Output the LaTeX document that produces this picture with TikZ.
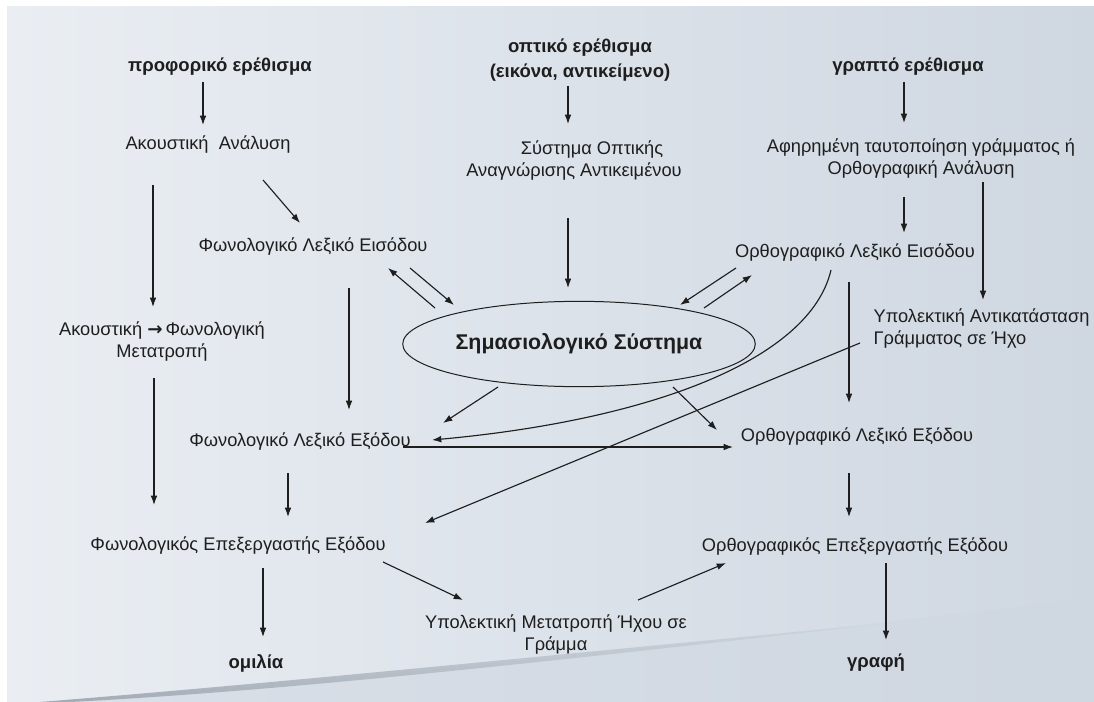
\documentclass[tikz,border=0pt]{standalone}
\usepackage{fontspec}
\setmainfont{Liberation Sans}
\newfontfamily\arrowfont{DejaVu Sans}
\usetikzlibrary{arrows.meta,calc,shapes.geometric}

\definecolor{panelleft}{RGB}{234,238,243}
\definecolor{panelright}{RGB}{207,215,225}
\definecolor{swooshdark}{RGB}{150,158,168}
\definecolor{ink}{RGB}{30,30,30}

\begin{document}
\begin{tikzpicture}[x=0.75pt,y=-0.75pt,
  every node/.style={font=\fontsize{13.7}{16.5}\selectfont,text=ink,inner sep=1pt},
  stimulus/.style={font=\fontsize{13.9}{19}\selectfont\bfseries,align=center},
  unit/.style={align=center},
  flow/.style={draw=ink,line width=0.85pt,-{Latex[length=7pt,width=5pt]}}]

  \useasboundingbox (0,0) rectangle (1094,702);
  \fill[white] (0,0) rectangle (1094,702);
  \shade[left color=panelleft,right color=panelright] (7,7) rectangle (1094,702);
  \fill[panelright,opacity=0.6] (40,702) .. controls (300,684) and (650,650) .. (1094,598) -- (1094,702) -- cycle;
  \shade[left color=swooshdark,right color=panelright,opacity=0.8]
    (40,702) .. controls (300,681) and (550,655) .. (900,622)
    .. controls (560,660) and (300,690) .. (70,702) -- cycle;

  \node[stimulus] (po) at (220,67) {προφορικό ερέθισμα};
  \node[stimulus] (oo) at (580,60) {οπτικό ερέθισμα\\(εικόνα, αντικείμενο)};
  \node[stimulus] (go) at (908,67) {γραπτό ερέθισμα};

  \node[unit] (aa) at (208,145) {Ακουστική\ \ Ανάλυση};
  \node[unit] (so) at (574,161) {\hspace*{27pt}Σύστημα Οπτικής\\Αναγνώρισης Αντικειμένου};
  \node[unit] (af) at (921,159) {Αφηρημένη ταυτοποίηση γράμματος ή\\Ορθογραφική Ανάλυση};

  \node[unit] (fle) at (313,247) {Φωνολογικό Λεξικό Εισόδου};
  \node[unit] (ole) at (855,253) {Ορθογραφικό Λεξικό Εισόδου};

  \node[unit] (afm) at (162,342) {Ακουστική {\arrowfont\bfseries →}\,Φωνολογική\\Μετατροπή};
  \node[ellipse,draw=ink,line width=0.75pt,minimum width=225pt,minimum height=64pt,
        font=\fontsize{16}{19}\selectfont\bfseries] (sem) at (579,344) {Σημασιολογικό Σύστημα};
  \node[align=left,anchor=west] (ya) at (872,329) {Υπολεκτική Αντικατάσταση\\Γράμματος σε Ήχο};

  \node[unit] (flx) at (300,442) {Φωνολογικό Λεξικό Εξόδου};
  \node[unit] (olx) at (857,437) {Ορθογραφικό Λεξικό Εξόδου};

  \node[unit] (fep) at (238,546) {Φωνολογικός Επεξεργαστής Εξόδου};
  \node[unit] (oep) at (855,547) {Ορθογραφικός Επεξεργαστής Εξόδου};
  \node[unit] (ym) at (556,635) {Υπολεκτική Μετατροπή Ήχου σε\\Γράμμα};

  \node[stimulus] (om) at (256,663) {ομιλία};
  \node[stimulus] (gr) at (876,663) {γραφή};

  % stimuli
  \draw[flow] ($(po)+(-17,15)$) -- ($(aa)+(-5,-20)$);
  \draw[flow] ($(oo)+(-12,26)$) -- ($(so)+(-6,-37)$);
  \draw[flow] ($(go)+(-4,15)$) -- ($(af)+(-17,-36)$);

  \draw[flow] ($(aa)+(55,35)$) -- ($(fle)+(-13,-24)$);
  \draw[flow] ($(aa)+(-55,40)$) -- ($(afm)+(-9,-35)$);
  \draw[flow] ($(so)+(-6,57)$) -- ($(sem)+(-11,-56)$);
  \draw[flow] ($(af)+(-17,38)$) -- ($(ole)+(49,-20)$);
  \draw[flow] ($(af)+(62,23)$) -- ($(ya.west)+(111,-29)$);

  % lexicon <-> semantic system
  \draw[flow] ($(sem)+(-144,-36)$) -- ($(fle)+(75,21)$);
  \draw[flow] ($(fle)+(97,21)$) -- ($(sem)+(-125,-39)$);
  \draw[flow] ($(ole)+(-119,15)$) -- ($(sem)+(101,-39)$);
  \draw[flow] ($(sem)+(125,-36)$) -- ($(ole)+(-103,22)$);

  \draw[flow] ($(fle)+(36,41)$) -- ($(flx)+(49,-32)$);
  \draw[flow] ($(ole)+(-6,29)$) -- ($(olx)+(-8,-34)$);
  \draw[flow] ($(sem)+(-81,43)$) -- ($(flx)+(143,-19)$);
  \draw[flow] ($(sem)+(94,43)$) -- ($(olx)+(-140,-7)$);
  \draw[flow] ($(flx)+(103,5)$) -- ($(olx)+(-124,10)$);
  \draw[flow] ($(ole)+(-24,17)$) .. controls +(-21,90) and +(218,-20) .. ($(flx)+(132,-2)$);
  \draw[flow] ($(ya.west)+(-12,14)$) -- ($(fep)+(187,-23)$);

  % output side
  \draw[flow] ($(flx)+(-12,31)$) -- ($(fep)+(50,-29)$);
  \draw[flow] ($(afm)+(-8,36)$) -- ($(fep)+(-84,-41)$);
  \draw[flow] ($(olx)+(-8,36)$) -- ($(oep)+(-6,-30)$);
  \draw[flow] ($(fep)+(145,16)$) -- ($(ym)+(-93,-35)$);
  \draw[flow] ($(ym)+(82,-35)$) -- ($(oep)+(-129,16)$);
  \draw[flow] ($(fep)+(25,22)$) -- ($(om)+(7,-26)$);
  \draw[flow] ($(oep)+(31,16)$) -- ($(gr)+(10,-23)$);
\end{tikzpicture}
\end{document}
